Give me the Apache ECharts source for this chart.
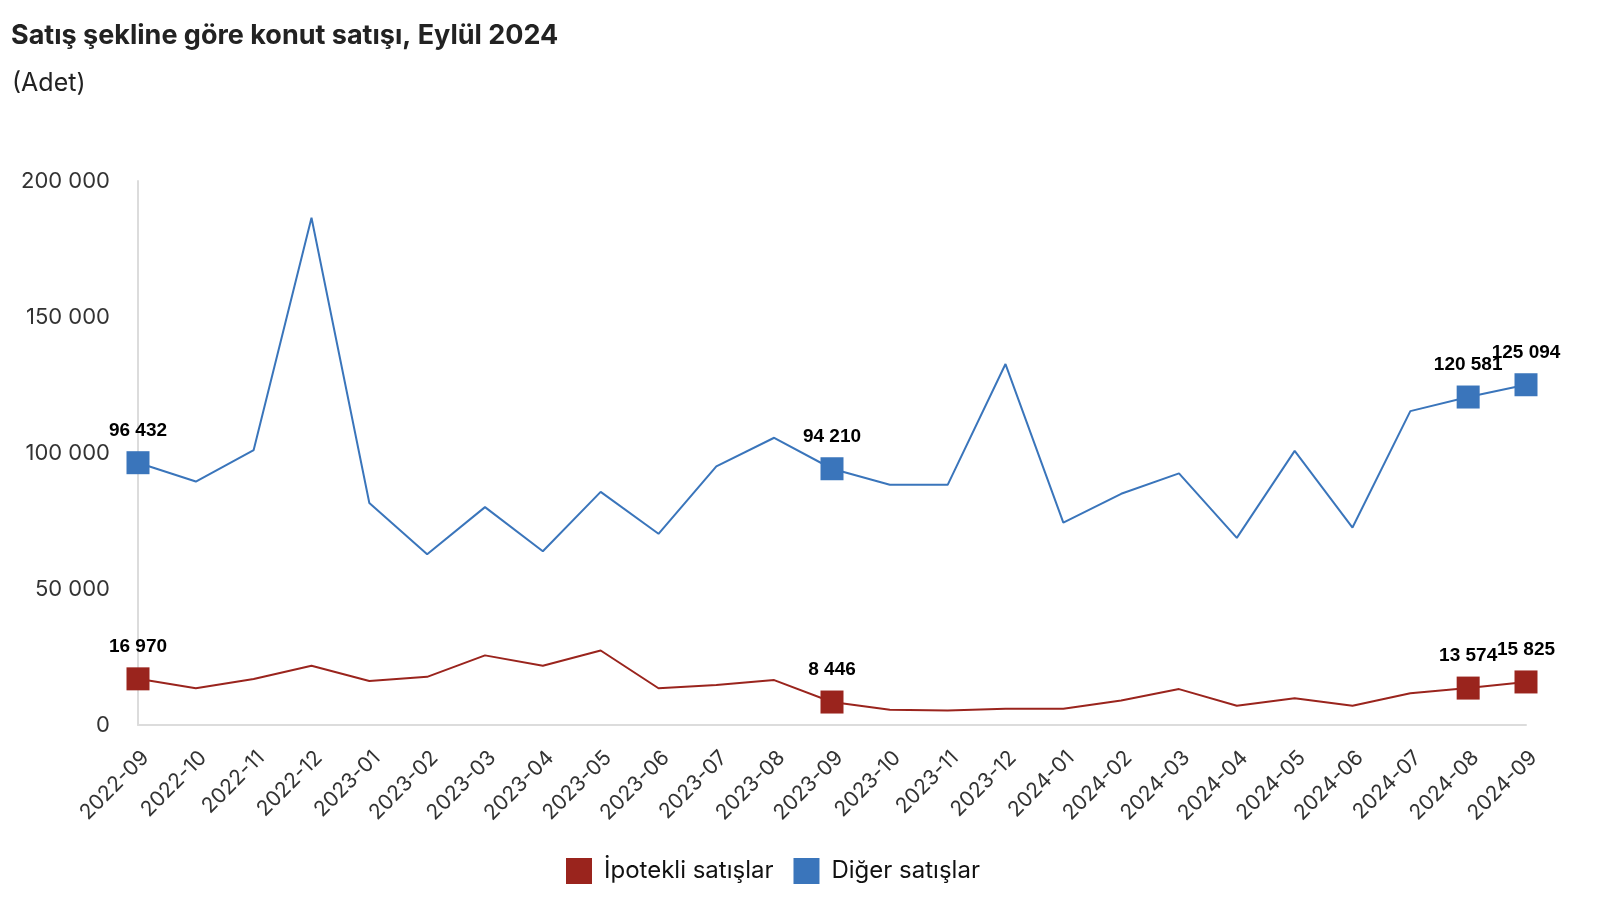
<!DOCTYPE html>
<html>
<head>
<meta charset="utf-8">
<title>Konut satışı</title>
<script src="https://cdn.jsdelivr.net/npm/echarts@6/dist/echarts.min.js"></script>
<style>
    html, body { margin: 0; padding: 0; background: #fff; }
    #main { width: 1602px; height: 914px; }
</style>
</head>
<body>
<div id="main"></div>
<script>
var months = ['2022-09', '2022-10', '2022-11', '2022-12', '2023-01', '2023-02', '2023-03',
    '2023-04', '2023-05', '2023-06', '2023-07', '2023-08', '2023-09', '2023-10', '2023-11',
    '2023-12', '2024-01', '2024-02', '2024-03', '2024-04', '2024-05', '2024-06', '2024-07',
    '2024-08', '2024-09'];
var ipotekli = [16970, 13500, 16900, 21800, 16200, 17700, 25600, 21800, 27400, 13500, 14700,
    16500, 8446, 5600, 5300, 6000, 6000, 9000, 13200, 7100, 9800, 7100, 11700, 13574, 15825];
var diger = [96432, 89500, 101100, 186500, 81600, 62800, 80100, 63900, 85700, 70300, 95100,
    105600, 94210, 88300, 88300, 132700, 74400, 85000, 92500, 68800, 100800, 72600, 115400,
    120581, 125094];
var marked = [0, 12, 23, 24];
var yTicks = [0, 50000, 100000, 150000, 200000];

function fmt(v) {
    return String(v).replace(/\B(?=(\d{3})+(?!\d))/g, ' ');
}

var myChart = echarts.init(document.getElementById('main'));

function makeSeries(name, data, color) {
    return {
        name: name,
        type: 'line',
        data: data,
        symbol: 'rect',
        showAllSymbol: true,
        symbolSize: function (v, p) {
            return marked.indexOf(p.dataIndex) >= 0 ? 23 : 0;
        },
        itemStyle: { color: color },
        lineStyle: { color: color, width: 2 },
        label: {
            show: true,
            position: 'top',
            distance: 11,
            color: '#000',
            fontFamily: 'Liberation Sans',
            fontWeight: 'bold',
            fontSize: 19,
            formatter: function (p) {
                return marked.indexOf(p.dataIndex) >= 0 ? fmt(p.value) : '';
            }
        },
        emphasis: { disabled: true },
        animation: false
    };
}

var option = {
    backgroundColor: '#fff',
    title: [{
        text: 'Satış şekline göre konut satışı, Eylül 2024',
        left: 6,
        top: 17,
        textStyle: { fontFamily: 'Inter', fontWeight: 'bold', fontSize: 27, color: '#222' }
    }, {
        text: '(Adet)',
        left: 7,
        top: 66,
        textStyle: { fontFamily: 'Inter', fontWeight: 'normal', fontSize: 25, color: '#222' }
    }],
    legend: {
        bottom: 25,
        left: 561,
        itemWidth: 26,
        itemHeight: 26,
        itemGap: 20,
        icon: 'rect',
        textStyle: { fontFamily: 'Inter', fontSize: 24, color: '#111', padding: [0, 0, 0, 7] },
        data: ['İpotekli satışlar', 'Diğer satışlar']
    },
    grid: { left: 138, right: 76, top: 181, bottom: 189 },
    xAxis: {
        type: 'category',
        data: months,
        boundaryGap: false,
        axisLine: { lineStyle: { color: '#dcdcdc', width: 2 } },
        axisTick: { show: false },
        axisLabel: {
            rotate: 45,
            interval: 0,
            margin: 22,
            verticalAlign: 'top',
            fontFamily: 'Inter',
            fontSize: 21,
            color: '#333'
        }
    },
    yAxis: {
        type: 'value',
        min: yTicks[0],
        max: yTicks[yTicks.length - 1],
        interval: 50000,
        axisLine: { show: true, lineStyle: { color: '#dcdcdc', width: 2 } },
        axisTick: { show: false },
        splitLine: { show: false },
        axisLabel: {
            margin: 28,
            fontFamily: 'Inter',
            fontSize: 22,
            color: '#333',
            formatter: function (v) { return fmt(v); }
        }
    },
    series: [
        makeSeries('İpotekli satışlar', ipotekli, '#9a241d'),
        makeSeries('Diğer satışlar', diger, '#3a75bb')
    ]
};

myChart.setOption(option);
</script>
</body>
</html>
